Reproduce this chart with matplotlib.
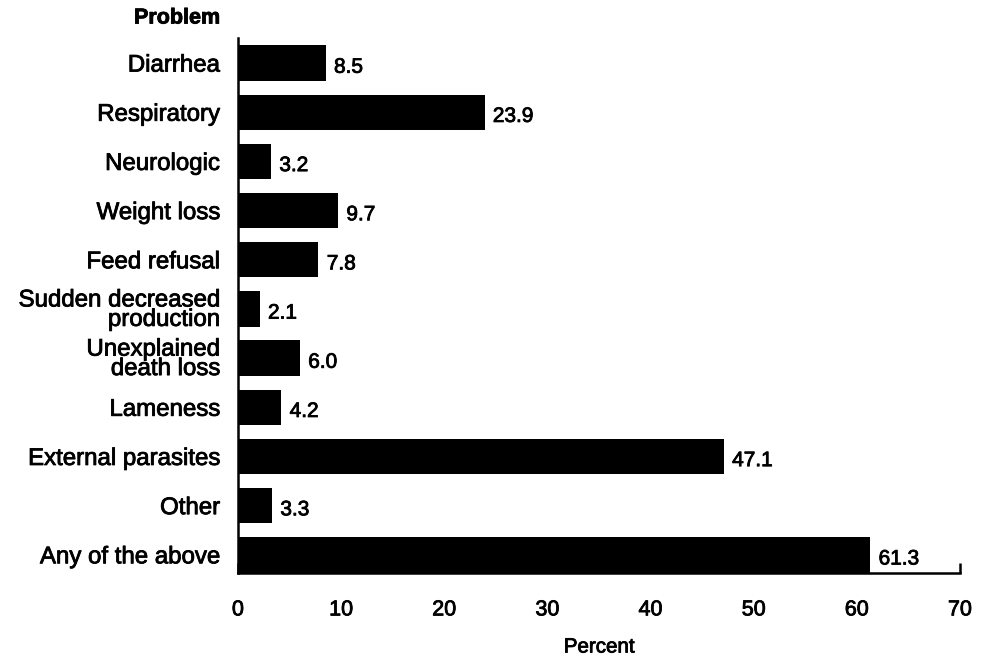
import matplotlib.pyplot as plt
import matplotlib.patheffects as pe

## data
problems = ['Diarrhea', 'Respiratory', 'Neurologic', 'Weight loss', 'Feed refusal',
            'Sudden decreased\nproduction', 'Unexplained\ndeath loss', 'Lameness',
            'External parasites', 'Other', 'Any of the above']
percent = [8.5, 23.9, 3.2, 9.7, 7.8, 2.1, 6.0, 4.2, 47.1, 3.3, 61.3]
xticks = [0, 10, 20, 30, 40, 50, 60, 70]

plt.rcParams['font.family'] = ['Liberation Sans', 'DejaVu Sans']
# slightly heavier strokes, like the reference rendering
heavy = [pe.withStroke(linewidth=0.6, foreground='black')]

fig = plt.figure(figsize=(9.9, 6.66), dpi=100)
ax = fig.add_axes([238/990, 1-573/666, 722/990, (573-38)/666])

pos = list(range(len(problems)))
ax.barh(pos, percent, height=0.72, color='black')
for p, v in zip(pos, percent):
    ax.annotate('%.1f' % v, (v, p), xytext=(6, -3), textcoords='offset points',
                va='center', ha='left', fontsize=15, path_effects=heavy)

ax.set_ylim(len(problems) - 1 + 0.37, -0.51)
ax.set_xlim(0, 70)
ax.set_yticks(pos)
ax.set_yticklabels(problems, fontsize=17.3, linespacing=0.85)
ax.set_xticks(xticks)
ax.set_xticklabels([str(t) for t in xticks], fontsize=15.5)
for lab in ax.get_yticklabels() + ax.get_xticklabels():
    lab.set_path_effects(heavy)
ax.tick_params(axis='y', length=0, pad=13)
ax.tick_params(axis='x', direction='in', length=7, width=1.8, pad=19)
for s in ['top', 'right']:
    ax.spines[s].set_visible(False)
for s in ['left', 'bottom']:
    ax.spines[s].set_linewidth(1.8)

fig.text(220/990, 1-18/666, 'Problem', ha='right', va='center', fontsize=15.5,
         fontweight='bold', path_effects=heavy)
fig.text(599/990, 1-647/666, 'Percent', ha='center', va='center', fontsize=14.8, path_effects=heavy)

plt.savefig('out.png')
plt.close()
